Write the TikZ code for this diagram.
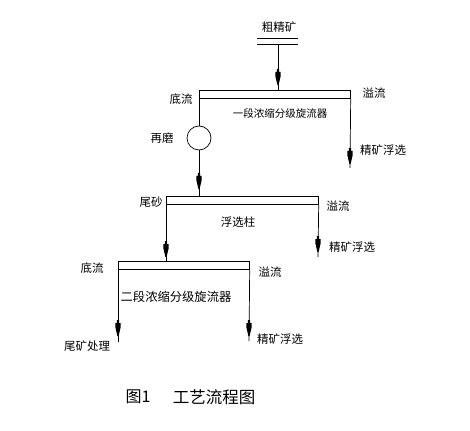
\documentclass[tikz,border=0pt]{standalone}
\usepackage{fontspec}
\newfontfamily\cjk{Noto Sans CJK SC}
\tikzset{
  flowline/.style={line width=0.7pt},
  lbl/.style={font=\cjk\fontsize{11.5}{12}\selectfont, inner sep=0pt, text=black},
  bar/.style={draw, line width=0.7pt, minimum height=8pt, inner sep=0pt, anchor=north west},
  flowarrow/.pic={\fill (-1.2,0) -- (1.2,0) -- (1.2,3) -- (2.7,3) -- (2.7,7) -- (0.6,16) -- (-0.6,16) -- (-2.7,7) -- (-2.7,3) -- (-1.2,3) -- cycle;}
}
\begin{document}
\begin{tikzpicture}[x=1pt,y=-1pt]
\useasboundingbox (0,0) rectangle (470,430);
% feed
\node[lbl] (feed) at (279,27) {粗精矿};
\coordinate (fl1) at (257,38); \coordinate (fr1) at (298,38);
\coordinate (fl2) at (257,44); \coordinate (fr2) at (298,44);
\draw[flowline] (fl1) -- (fr1);
\draw[flowline] (fl2) -- (fr2);
% cyclone 1
\node[bar, minimum width=151pt] (cyc1) at (199,90) {};
\coordinate (feedtop) at (278,44);
\draw[flowline] (feedtop) -- (cyc1.north -| feedtop);
\pic at (278,69) {flowarrow};
\node[lbl] (c1u) at (181,99) {底流};
\node[lbl] (c1o) at (374,93) {溢流};
\node[lbl, font=\cjk\fontsize{10.5}{12}\selectfont] (c1n) at (280,114) {一段浓缩分级旋流器};
% regrind
\node[draw, circle, line width=0.7pt, minimum size=24pt, inner sep=0pt] (regrind) at (199,138) {};
\node[lbl] (rgl) at (162,138) {再磨};
\draw[flowline] (cyc1.south west) -- (regrind.north);
% cyclone 1 overflow
\coordinate (c1end) at (350,168);
\draw[flowline] (cyc1.south east) -- (c1end);
\pic at (350,148) {flowarrow};
\node[lbl] (c1f) at (383,150) {精矿浮选};
% flotation column
\node[bar, minimum width=152pt] (col) at (166,196) {};
\draw[flowline] (regrind.south) -- (col.north -| regrind.south);
\pic at (199,173) {flowarrow};
\node[lbl] (coltail) at (151,202) {尾砂};
\node[lbl] (colo) at (338,206) {溢流};
\node[lbl] (coln) at (238,222) {浮选柱};
\coordinate (colend) at (318,257);
\draw[flowline] (col.south east) -- (colend);
\pic at (318,236) {flowarrow};
\node[lbl] (colf) at (352,247) {精矿浮选};
% cyclone 2
\node[bar, minimum width=131pt] (cyc2) at (118,261) {};
\draw[flowline] (col.south west) -- (cyc2.north -| col.south west);
\pic at (166,241) {flowarrow};
\node[lbl] (c2u) at (92,268) {底流};
\node[lbl] (c2o) at (270,272) {溢流};
\node[lbl, font=\cjk\fontsize{12.3}{13}\selectfont] (c2n) at (176,297) {二段浓缩分级旋流器};
\coordinate (c2lend) at (118,342);
\coordinate (c2rend) at (249,341);
\draw[flowline] (cyc2.south west) -- (c2lend);
\draw[flowline] (cyc2.south east) -- (c2rend);
\pic at (118,320) {flowarrow};
\pic at (249,320) {flowarrow};
\node[lbl] (tail) at (87,346) {尾矿处理};
\node[lbl] (c2f) at (280,339) {精矿浮选};
% caption
\node[lbl, font=\cjk\fontsize{16}{18}\selectfont] (cap1) at (138,397) {图1};
\node[lbl, font=\cjk\fontsize{16.5}{18}\selectfont] (cap2) at (214,397) {工艺流程图};
\end{tikzpicture}
\end{document}
